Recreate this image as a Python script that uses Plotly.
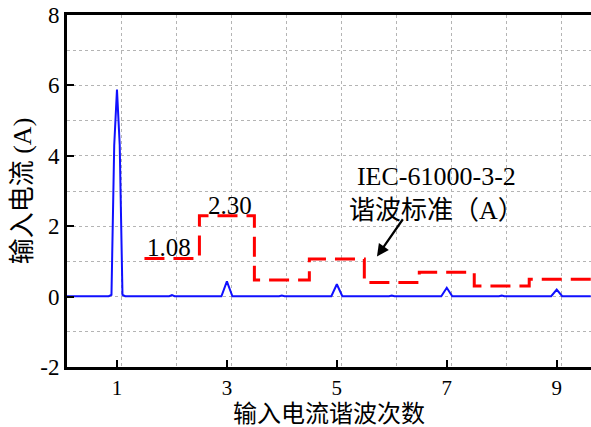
import plotly.graph_objects as go

# Measured input-current spectrum (harmonic order vs. amplitude, A)
spec_order = [0.09, 0.85, 0.9, 0.95, 1.0, 1.05, 1.1, 1.15, 1.95, 2.0, 2.05,
              2.9, 3.0, 3.1, 3.95, 4.0, 4.05, 4.9, 5.0, 5.1, 5.95, 6.0, 6.05,
              6.9, 7.0, 7.1, 7.95, 8.0, 8.05, 8.9, 9.0, 9.1, 9.62]
spec_amp = [0.01, 0.01, 0.05, 4.3, 5.88, 4.3, 0.05, 0.01, 0.01, 0.04, 0.01,
            0.01, 0.43, 0.01, 0.01, 0.03, 0.01, 0.01, 0.35, 0.01, 0.01, 0.03, 0.01,
            0.01, 0.25, 0.01, 0.01, 0.03, 0.01, 0.01, 0.20, 0.01, 0.01]

# IEC-61000-3-2 harmonic current limits (A)
iec_order = [2, 3, 4, 5, 6, 7, 8, 9]
iec_limit = [1.08, 2.30, 0.47, 1.07, 0.40, 0.69, 0.30, 0.49]

x_ticks = [1, 3, 5, 7, 9]
y_ticks = [-2, 0, 2, 4, 6, 8]

FONT = "Liberation Serif, Noto Sans CJK SC"
GRID = "#b4b4b4"

# staircase: each limit spans order-0.5 .. order+0.5
step_x = [n - 0.5 for n in iec_order] + [iec_order[-1] + 1.5]
step_y = iec_limit + [iec_limit[-1]]

fig = go.Figure()
fig.add_trace(go.Scatter(
    x=step_x, y=step_y, mode="lines", line_shape="hv",
    line=dict(color="#ff0000", width=3, dash="20px,9px"),
    showlegend=False, hoverinfo="skip"))
fig.add_trace(go.Scatter(
    x=spec_order, y=spec_amp, mode="lines",
    line=dict(color="#1010ff", width=2),
    showlegend=False))

# value labels of the first two limits
fig.add_annotation(x=1.95, y=1.39, text=f"{iec_limit[0]:.2f}", showarrow=False,
                   font=dict(family=FONT, size=25, color="black"))
fig.add_annotation(x=3.06, y=2.58, text=f"{iec_limit[1]:.2f}", showarrow=False,
                   font=dict(family=FONT, size=25, color="black"))
fig.add_annotation(x=6.81, y=2.93, text="IEC-61000-3-2<br>谐波标准（A）",
                   showarrow=False, align="center",
                   font=dict(family=FONT, size=26, color="black"))
fig.add_annotation(x=5.73, y=1.14, ax=6.22, ay=2.24, axref="x", ayref="y",
                   xref="x", yref="y", text="", showarrow=True,
                   arrowhead=2, arrowsize=1.1, arrowwidth=2.2, arrowcolor="black")

# x-axis title, set just below the tick labels
fig.add_annotation(x=0.5, y=-0.1335, xref="paper", yref="paper",
                   xanchor="center", yanchor="middle", showarrow=False,
                   text="输入电流谐波次数",
                   font=dict(family=FONT, size=24, color="black"))

fig.update_layout(
    width=591, height=427,
    margin=dict(l=67, r=0, t=15, b=60),
    paper_bgcolor="white", plot_bgcolor="white",
    font=dict(family=FONT, size=22, color="black"),
    xaxis=dict(
        range=[0.0909, 9.624], tickvals=x_ticks, ticktext=[str(v) for v in x_ticks],
        ticks="inside", ticklen=7, tickwidth=2, tickcolor="black",
        showline=True, linewidth=3, linecolor="black", mirror=True,
        showgrid=False, zeroline=False,
        minor=dict(tick0=0.0909, dtick=1, showgrid=True, gridcolor=GRID,
                   griddash="dot", gridwidth=1, ticks=""),
        tickfont=dict(size=21),
    ),
    yaxis=dict(
        range=[-2, 8], tickvals=y_ticks, ticktext=[str(v) for v in y_ticks],
        ticks="inside", ticklen=7, tickwidth=2, tickcolor="black",
        showline=True, linewidth=3, linecolor="black", mirror=False,
        showgrid=False, zeroline=False,
        minor=dict(tick0=0, dtick=1, showgrid=True, gridcolor=GRID,
                   griddash="dot", gridwidth=1, ticks=""),
        title=dict(text="输入电流 (A)", font=dict(size=26), standoff=2),
        tickfont=dict(size=23), ticklabelstandoff=0,
    ),
)

fig.write_html("out.html")
